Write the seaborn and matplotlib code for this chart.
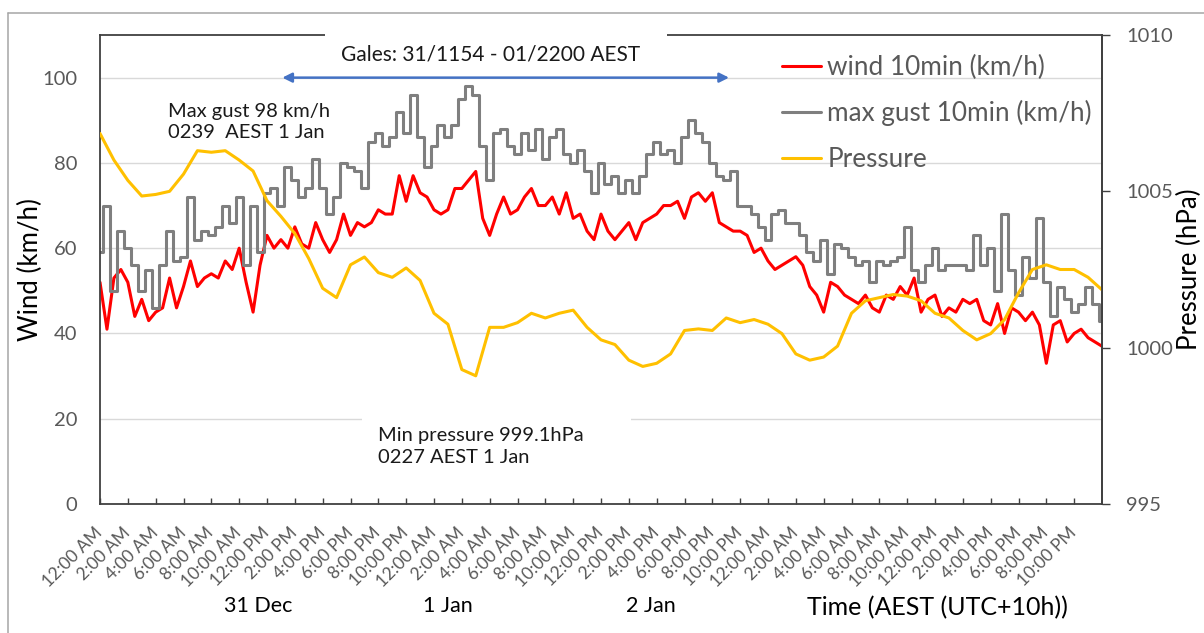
import numpy as np
import matplotlib
matplotlib.use('Agg')
import matplotlib.pyplot as plt
from matplotlib.patches import Rectangle
from matplotlib.lines import Line2D
import seaborn as sns

# ---------------------------------------------------------------------------
# Data (hours since 00:00 AEST 31 Dec)
# ---------------------------------------------------------------------------
wind_hours = np.arange(0, 72.5, 0.5)

wind_10min = [
    52, 41, 53, 55, 52, 44, 48, 43, 45, 46, 53, 46, 51, 57, 51, 53, 54, 53,
    57, 55, 60, 52, 45, 56, 63, 60, 62, 60, 65, 61, 60, 66, 62, 59, 62, 68,
    63, 66, 65, 66, 69, 68, 68, 77, 71, 77, 73, 72, 69, 68, 69, 74, 74, 76,
    78, 67, 63, 68, 72, 68, 69, 72, 74, 70, 70, 72, 68, 73, 67, 68, 64, 62,
    68, 64, 62, 64, 66, 62, 66, 67, 68, 70, 70, 71, 67, 72, 73, 71, 73, 66,
    65, 64, 64, 63, 59, 60, 57, 55, 56, 57, 58, 56, 51, 49, 45, 52, 51, 49,
    48, 47, 49, 46, 45, 49, 48, 51, 49, 53, 45, 48, 49, 44, 46, 45, 48, 47,
    48, 43, 42, 47, 40, 46, 45, 43, 45, 42, 33, 42, 43, 38, 40, 41, 39, 38,
    37,
]

gust_10min = [
    59, 70, 50, 64, 60, 56, 50, 55, 46, 56, 64, 57, 58, 72, 62, 64, 63, 65,
    70, 66, 72, 56, 70, 59, 73, 74, 70, 79, 76, 72, 74, 81, 74, 68, 72, 80,
    79, 78, 74, 85, 87, 84, 86, 92, 87, 96, 86, 79, 84, 89, 86, 89, 95, 98,
    96, 84, 76, 87, 88, 84, 82, 87, 83, 88, 81, 86, 88, 82, 80, 83, 78, 73,
    80, 75, 77, 73, 76, 73, 77, 82, 85, 82, 83, 80, 86, 90, 87, 85, 80, 77,
    76, 78, 70, 70, 68, 65, 62, 68, 69, 66, 66, 63, 59, 57, 62, 54, 61, 60,
    58, 56, 57, 52, 57, 56, 57, 58, 65, 55, 52, 56, 60, 55, 56, 56, 56, 55,
    63, 56, 60, 50, 68, 55, 49, 58, 53, 67, 52, 44, 51, 48, 45, 47, 51, 47,
    43,
]

pressure_hours = np.arange(0, 73, 1)
pressure_hpa = [
    1006.85, 1006.0, 1005.35, 1004.85, 1004.9, 1005.0, 1005.55, 1006.3,
    1006.25, 1006.3, 1006.0, 1005.65, 1004.7, 1004.2, 1003.65, 1002.85,
    1001.9, 1001.6, 1002.65, 1002.9, 1002.4, 1002.25, 1002.55, 1002.15,
    1001.1, 1000.75, 999.3, 999.1, 1000.65, 1000.65, 1000.8, 1001.1,
    1000.95, 1001.1, 1001.2, 1000.65, 1000.25, 1000.1, 999.6, 999.4,
    999.5, 999.8, 1000.55, 1000.6, 1000.55, 1000.95, 1000.8, 1000.9,
    1000.75, 1000.45, 999.8, 999.6, 999.7, 1000.05, 1001.1, 1001.5,
    1001.6, 1001.7, 1001.65, 1001.5, 1001.1, 1000.95, 1000.55, 1000.25,
    1000.45, 1000.9, 1001.75, 1002.5, 1002.65, 1002.5, 1002.5, 1002.25,
    1001.85,
]

hour_labels = ['12:00 AM', '2:00 AM', '4:00 AM', '6:00 AM', '8:00 AM', '10:00 AM',
               '12:00 PM', '2:00 PM', '4:00 PM', '6:00 PM', '8:00 PM', '10:00 PM']
tick_labels = hour_labels * 3
day_labels = ['31 Dec', '1 Jan', '2 Jan']
series_names = ['wind 10min (km/h)', 'max gust 10min (km/h)', 'Pressure']

# colours
RED = '#FF0000'
GREY = '#7F7F7F'
GOLD = '#FFC000'
BLUE = '#4472C4'
TXT = '#595959'
SPINE = '#404040'
GRID = '#D9D9D9'

sns.set_theme(style='white')
plt.rcParams['font.family'] = ['Lato', 'DejaVu Sans']

W, H = 1204, 633
fig = plt.figure(figsize=(W / 100, H / 100), dpi=100)
ax = fig.add_axes([100 / W, 1 - 504 / H, 1002 / W, 469 / H])

# wind series (gust logged as 10-min maxima -> stepped trace)
sns.lineplot(x=wind_hours, y=wind_10min, ax=ax, color=RED, lw=2.2, legend=False)
sns.lineplot(x=wind_hours, y=gust_10min, ax=ax, color=GREY, lw=2.2, legend=False,
             drawstyle='steps-mid')

ax.set_xlim(0, 72)
ax.set_ylim(0, 110)
ax.set_yticks([0, 20, 40, 60, 80, 100])
ax.grid(axis='y', color=GRID, lw=1)
ax.set_axisbelow(True)
for s in ax.spines.values():
    s.set_color(SPINE)
    s.set_linewidth(1.3)

ax.set_xticks(np.arange(0, 72, 2))
ax.set_xticklabels(tick_labels, rotation=45, ha='right', va='center',
                   rotation_mode='anchor', fontsize=12.5, color=TXT)
ax.tick_params(axis='x', bottom=True, direction='in', length=4.5, width=1,
               color=SPINE, pad=19)
ax.tick_params(axis='y', left=False, length=0, pad=16.5, labelsize=14.5,
               labelcolor=TXT)
ax.set_xlabel('')
ax.set_ylabel('Wind (km/h)', fontsize=18.5, color='black')
ax.yaxis.set_label_coords((30 - 100) / 1002, 0.5)
ax.yaxis.label.set_va('center')

# pressure on secondary axis
ax2 = ax.twinx()
sns.lineplot(x=pressure_hours, y=pressure_hpa, ax=ax2, color=GOLD, lw=2.2, legend=False)
ax2.set_ylim(995, 1010)
ax2.set_yticks([995, 1000, 1005, 1010])
for side in ['top', 'left', 'bottom']:
    ax2.spines[side].set_visible(False)
ax2.spines['right'].set_color(SPINE)
ax2.spines['right'].set_linewidth(1.3)
ax2.tick_params(axis='y', right=True, direction='out', length=6, width=1,
                color=SPINE, pad=11.5, labelsize=14.5, labelcolor=TXT)
ax2.set_ylabel('Pressure (hPa)', fontsize=18.5, color='black')
ax2.yaxis.set_label_coords((1189 - 100) / 1002, 0.5)
ax2.yaxis.label.set_va('center')

# legend
handles = [Line2D([], [], color=c, lw=2.2) for c in (RED, GREY, GOLD)]
ax2.legend(handles, series_names, loc='upper left', bbox_to_anchor=(0.67, 0.98),
           frameon=False, fontsize=18.8, handlelength=1.5, handletextpad=0.25,
           labelspacing=0.78, labelcolor=TXT, borderaxespad=0)

# gale period annotation
ax2.add_patch(Rectangle((0.2246, 0.925), 0.3413, 0.09, transform=ax2.transAxes,
                        facecolor='white', edgecolor='none', clip_on=False, zorder=5))
ax2.text(28.06, 105.5, 'Gales: 31/1154 - 01/2200 AEST', transform=ax.transData,
         ha='center', va='center', fontsize=15, color='#1a1a1a', zorder=6)
ax2.annotate('', xy=(45.4, 100), xytext=(12.9, 100), xycoords=ax.transData,
             textcoords=ax.transData,
             arrowprops=dict(arrowstyle='<|-|>', color=BLUE, lw=1.8, mutation_scale=14),
             zorder=6)

ax2.text(4.9, 89.6, 'Max gust 98 km/h\n0239  AEST 1 Jan', transform=ax.transData,
         ha='left', va='center', fontsize=14.5, linespacing=1.3, color='#1a1a1a', zorder=6)

ax2.add_patch(Rectangle((0.2615, 0.062), 0.2685, 0.134, transform=ax2.transAxes,
                        facecolor='white', edgecolor='none', clip_on=False, zorder=5))
ax2.text(19.98, 13.5, 'Min pressure 999.1hPa\n0227 AEST 1 Jan', transform=ax.transData,
         ha='left', va='center', fontsize=14.5, linespacing=1.3, color='#1a1a1a', zorder=6)

# day labels and time axis title
for name, px in zip(day_labels, [258, 448, 651]):
    fig.text(px / W, 1 - 606 / H, name, ha='center', va='center', fontsize=15.5, color='black')
fig.text(937 / W, 1 - 608 / H, 'Time (AEST (UTC+10h))', ha='center', va='center',
         fontsize=18, color='black')

# outer chart frame
fig.add_artist(Line2D([7.5 / W, 7.5 / W], [0, 1 - 12.5 / H], transform=fig.transFigure,
                      color='#A6A6A6', lw=1.1))
fig.add_artist(Line2D([7.5 / W, 1], [1 - 12.5 / H, 1 - 12.5 / H], transform=fig.transFigure,
                      color='#A6A6A6', lw=1.1))

fig.savefig('out.png', dpi=100)
